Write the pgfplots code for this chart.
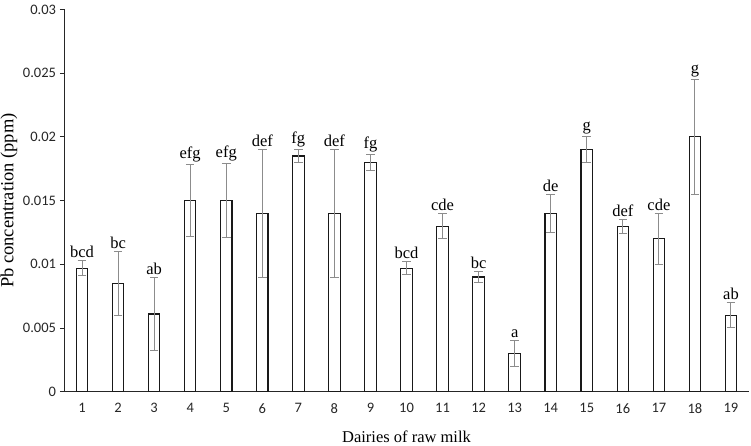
\documentclass[border=0pt]{standalone}
\usepackage{fontspec}
\setmainfont{Liberation Serif}
\newfontfamily\carlito{Carlito}
\usepackage{pgfplots}
\usepackage{pgfplotstable}
\pgfplotsset{compat=1.18}

\pgfplotstableread{
x  y       err      lab
1  0.0097  0.0006   bcd
2  0.0085  0.0025   bc
3  0.0061  0.0029   ab
4  0.0150  0.0028   efg
5  0.0150  0.0029   efg
6  0.0140  0.0050   def
7  0.0185  0.0005   fg
8  0.0140  0.0050   def
9  0.0180  0.0006   fg
10 0.0097  0.0005   bcd
11 0.0130  0.0010   cde
12 0.0090  0.00045  bc
13 0.0030  0.0010   a
14 0.0140  0.0015   de
15 0.0190  0.0010   g
16 0.0130  0.00055  def
17 0.0120  0.0020   cde
18 0.0200  0.0045   g
19 0.0060  0.0010   ab
}\milk

\begin{document}
\begin{tikzpicture}
\useasboundingbox (-64pt,-54.3pt) rectangle (687pt,391.7pt);
\begin{axis}[
    scale only axis,
    width=685pt, height=382.2pt,
    at={(0,0)}, anchor=south west,
    xmin=0.5, xmax=19.5,
    ymin=0, ymax=0.03,
    axis x line*=bottom,
    axis y line*=left,
    axis line style={black!85, line width=0.9pt},
    xtick={1,...,19},
    xtick style={draw=none},
    ytick={0,0.005,0.01,0.015,0.02,0.025,0.03},
    yticklabels={0,0.005,0.01,0.015,0.02,0.025,0.03},
    scaled y ticks=false,
    ytick style={black!85, line width=0.9pt},
    tick align=outside,
    major tick length=4pt,
    xticklabel style={font=\carlito\fontsize{14.5}{16}\selectfont, text=black!85, yshift=-4pt},
    yticklabel style={font=\carlito\fontsize{14.5}{16}\selectfont, text=black!85, xshift=-0.5pt},
    /pgf/number format/assume math mode=true,
    xlabel={Dairies of raw milk},
    ylabel={Pb concentration (ppm)},
    every axis x label/.style={at={(axis description cs:0.5,-0.1185)}, anchor=center,
        font=\fontsize{16.5}{18}\selectfont},
    every axis y label/.style={at={(axis description cs:-0.0803,0.5)}, rotate=90, anchor=center,
        font=\fontsize{18.5}{20}\selectfont},
    clip=false,
]
\addplot[ybar, bar width=11.5pt, bar shift=0pt, fill=white, draw=black!90, line width=1.1pt,
    error bars/.cd, y dir=both, y explicit,
    error bar style={black!45, line width=1pt},
    error mark options={rotate=90, mark size=4.3pt, black!45, line width=1pt}]
    table[x=x, y=y, y error=err] {\milk};
\addplot[draw=none, mark=none, nodes near coords, point meta=explicit symbolic,
    every node near coord/.append style={font=\fontsize{16.5}{18}\selectfont, anchor=south, inner sep=2.5pt}]
    table[x=x, y expr=\thisrow{y}+\thisrow{err}, meta=lab] {\milk};
\end{axis}
\end{tikzpicture}
\end{document}
